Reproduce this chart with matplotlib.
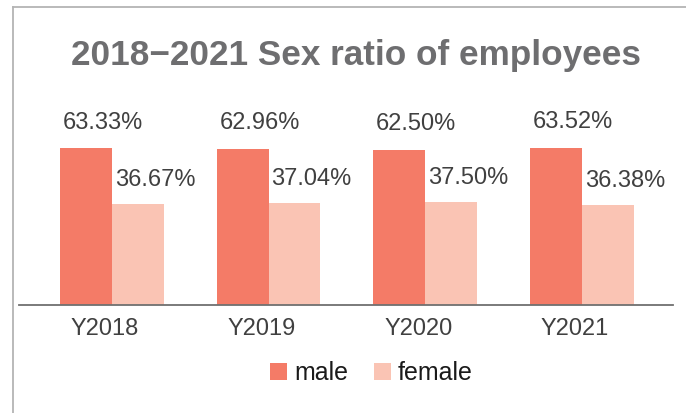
import numpy as np
import matplotlib
matplotlib.use('Agg')
import matplotlib.pyplot as plt
from matplotlib.lines import Line2D
from matplotlib.transforms import ScaledTranslation

plt.rc('font', family=['Liberation Sans', 'DejaVu Sans'])

years = ['Y2018', 'Y2019', 'Y2020', 'Y2021']
male = [63.33, 62.96, 62.50, 63.52]
female = [36.67, 37.04, 37.50, 36.38]
title = '2018\u22122021 Sex ratio of employees'

c_male = '#f47b67'
c_female = '#fac4b4'
base = -11.4   # value axis is not anchored at zero in the source chart
width = 0.331

W, H = 686, 413
fig = plt.figure(figsize=(W / 100, H / 100), dpi=100)
ax = fig.add_axes((19 / W, 108 / H, (673 - 19) / W, 205 / H))

x = np.arange(len(years))
m = np.array(male)
f = np.array(female)
ax.bar(x - width / 2, m - base, width, bottom=base, color=c_male, label='male')
ax.bar(x + width / 2, f - base, width, bottom=base, color=c_female, label='female')

ax.set_xlim(-0.592, 3.58)
ax.set_ylim(base, base + 205 / 2.1)

# value labels, left aligned with the bar edge
for xi, v in zip(x, m):
    ax.annotate('%.2f%%' % v, (xi - width, v), xytext=(2, 14), textcoords='offset points',
                ha='left', va='baseline', fontsize=17, color='#404040')
for xi, v in zip(x, f):
    ax.annotate('%.2f%%' % v, (xi, v), xytext=(2, 13), textcoords='offset points',
                ha='left', va='baseline', fontsize=17, color='#404040')

for s in ['left', 'right', 'top']:
    ax.spines[s].set_visible(False)
ax.spines['bottom'].set_color('#707070')
ax.spines['bottom'].set_linewidth(1.3)
ax.spines['bottom'].set_position(('data', base))
ax.set_yticks([])
ax.set_xticks(x)
ax.set_xticklabels(years, fontsize=17, color='#404040')
ax.tick_params(axis='x', length=0, pad=9.5)
shift = ScaledTranslation(-7 / 100, 0, fig.dpi_scale_trans)
for lab in ax.get_xticklabels():
    lab.set_transform(lab.get_transform() + shift)

fig.text(356 / W, 1 - 56 / H, title, ha='center', va='center', fontsize=25.3,
         fontweight='bold', color='#6e6e70')

leg = fig.legend(loc='center', bbox_to_anchor=(371.5 / W, 1 - 373 / H), ncol=2, frameon=False,
                 fontsize=18, handlelength=0.68, handleheight=0.68, handletextpad=0.3,
                 columnspacing=1.0, borderpad=0)
for t in leg.get_texts():
    t.set_color('#1a1a1a')

# outer frame of the card (only top and left edges are in view)
fig.add_artist(Line2D([13 / W, 1], [1 - 7 / H, 1 - 7 / H], transform=fig.transFigure,
                      color='#b4b4b4', lw=1.3))
fig.add_artist(Line2D([13 / W, 13 / W], [0, 1 - 7 / H], transform=fig.transFigure,
                      color='#b4b4b4', lw=1.3))

fig.savefig('out.png', dpi=100)
